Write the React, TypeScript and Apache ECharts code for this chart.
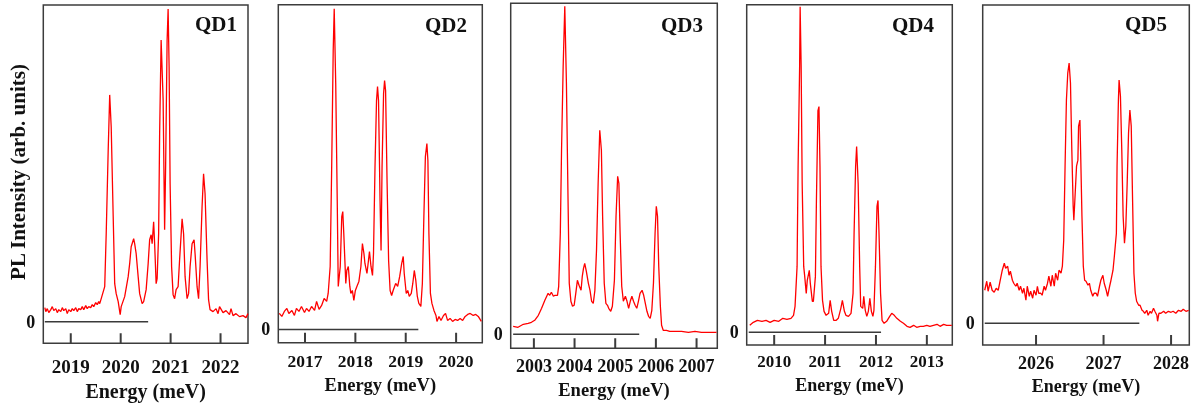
import { useEffect, useRef } from "react";
import * as echarts from "echarts";

// ---------- data ----------
const qd1Energy = [
  2018.48, 2018.5, 2018.53, 2018.56, 2018.6, 2018.63, 2018.66, 2018.7, 2018.73, 2018.76,
  2018.8, 2018.83, 2018.86, 2018.9, 2018.93, 2018.96, 2019.0, 2019.03, 2019.06, 2019.1,
  2019.13, 2019.16, 2019.2, 2019.23, 2019.26, 2019.3, 2019.33, 2019.36, 2019.4, 2019.43,
  2019.46, 2019.5, 2019.53, 2019.56, 2019.58,
  2019.61, 2019.68, 2019.71, 2019.75, 2019.78, 2019.81, 2019.85, 2019.88, 2019.91, 2019.95, 2019.99,
  2020.01, 2020.08, 2020.15, 2020.18, 2020.21, 2020.26, 2020.28, 2020.31, 2020.35, 2020.38,
  2020.43, 2020.46, 2020.51, 2020.55, 2020.58, 2020.61, 2020.63, 2020.66, 2020.68, 2020.71,
  2020.73, 2020.76, 2020.78, 2020.81, 2020.85, 2020.88, 2020.9, 2020.93, 2020.95, 2020.97,
  2020.99, 2021.02, 2021.05, 2021.08, 2021.11, 2021.15, 2021.18, 2021.23, 2021.26, 2021.29,
  2021.33, 2021.36, 2021.39, 2021.43, 2021.47, 2021.49, 2021.53, 2021.56, 2021.59, 2021.63,
  2021.66, 2021.69, 2021.73, 2021.76, 2021.79,
  2021.85, 2021.91, 2021.95, 2021.98, 2022.05, 2022.11, 2022.18, 2022.21, 2022.25, 2022.31,
  2022.38, 2022.45, 2022.51, 2022.55,
];
const qd1Intensity = [
  14, 10, 13, 9, 12, 15, 11, 13, 9, 12,
  10, 14, 11, 13, 8, 12, 10, 13, 11, 14,
  10, 13, 12, 15, 12, 16, 13, 15, 14, 17,
  15, 19, 17, 20, 18,
  23, 35, 88, 172, 227, 195, 105, 38, 28, 20, 7,
  15, 25, 45, 58, 75, 83, 78, 68, 45, 28,
  18, 20, 32, 58, 82, 87, 78, 100, 78, 38,
  43, 88, 188, 282, 222, 92, 155, 282, 313, 255,
  138, 55, 27, 23, 32, 35, 62, 103, 88, 45,
  23, 28, 55, 78, 82, 68, 35, 23, 55, 115,
  148, 128, 62, 22, 12,
  10, 13, 8, 15, 9, 11, 7, 13, 6, 8,
  5, 6, 4, 8,
];

const qd2Energy = [
  2016.49, 2016.54, 2016.59, 2016.64, 2016.68, 2016.74, 2016.79, 2016.83, 2016.88, 2016.93,
  2016.99, 2017.03, 2017.08, 2017.13, 2017.19, 2017.23, 2017.28, 2017.33, 2017.38, 2017.43,
  2017.46, 2017.5, 2017.53, 2017.56, 2017.58, 2017.61, 2017.64, 2017.66, 2017.7, 2017.73,
  2017.75, 2017.77, 2017.81, 2017.83, 2017.86, 2017.89, 2017.91, 2017.94, 2017.97, 2018.0,
  2018.03, 2018.07, 2018.11, 2018.14, 2018.17, 2018.19, 2018.23, 2018.26, 2018.28, 2018.31,
  2018.34, 2018.36, 2018.39, 2018.42, 2018.44, 2018.46, 2018.49, 2018.51, 2018.53, 2018.56,
  2018.58, 2018.6, 2018.63, 2018.66, 2018.69, 2018.72, 2018.75, 2018.8, 2018.84, 2018.88,
  2018.92, 2018.95, 2018.97, 2019.01, 2019.04, 2019.07, 2019.11, 2019.14, 2019.17, 2019.2,
  2019.23, 2019.26, 2019.3, 2019.33, 2019.36, 2019.39, 2019.42, 2019.44, 2019.46, 2019.49,
  2019.52, 2019.56, 2019.6, 2019.62, 2019.66, 2019.7, 2019.75, 2019.79, 2019.83, 2019.88,
  2019.93, 2019.98, 2020.03, 2020.08, 2020.13, 2020.18, 2020.23, 2020.28, 2020.34, 2020.39,
  2020.44, 2020.5,
];
const qd2Intensity = [
  16, 13, 18, 21, 16, 19, 14, 21, 18, 23,
  17, 21, 18, 23, 19, 28, 20, 24, 31, 28,
  36, 63, 163, 279, 321, 246, 129, 43, 63, 113,
  118, 96, 46, 59, 63, 43, 36, 39, 29, 39,
  43, 48, 63, 86, 76, 66, 56, 69, 78, 63,
  54, 76, 163, 229, 243, 229, 129, 79, 163, 236,
  249, 239, 146, 69, 39, 34, 39, 46, 43, 53,
  66, 73, 56, 36, 39, 33, 36, 46, 59, 49,
  33, 26, 23, 46, 113, 173, 186, 169, 96, 36,
  26, 19, 14, 8, 13, 9, 14, 16, 9, 11,
  8, 10, 9, 11, 9, 13, 15, 16, 14, 15,
  13, 8,
];

const qd3Energy = [
  2002.49, 2002.61, 2002.74, 2002.86, 2002.94, 2003.02, 2003.11, 2003.19, 2003.27, 2003.35,
  2003.39, 2003.43, 2003.48, 2003.52, 2003.58, 2003.61, 2003.65, 2003.68, 2003.72, 2003.76,
  2003.8, 2003.84, 2003.87, 2003.91, 2003.95, 2003.99, 2004.03, 2004.07, 2004.11, 2004.16,
  2004.19, 2004.22, 2004.25, 2004.29, 2004.34, 2004.38, 2004.42, 2004.46, 2004.5, 2004.54,
  2004.58, 2004.62, 2004.66, 2004.69, 2004.73, 2004.77, 2004.81, 2004.84, 2004.89, 2004.93,
  2004.98, 2005.02, 2005.06, 2005.09, 2005.12, 2005.16, 2005.2, 2005.25, 2005.29, 2005.33,
  2005.37, 2005.41, 2005.45, 2005.49, 2005.53, 2005.57, 2005.61, 2005.66, 2005.7, 2005.74,
  2005.78, 2005.82, 2005.86, 2005.9, 2005.94, 2005.98, 2006.01, 2006.04, 2006.07, 2006.11,
  2006.14, 2006.18, 2006.26, 2006.34, 2006.47, 2006.63, 2006.8, 2006.96, 2007.12, 2007.29,
  2007.49,
];
const qd3Intensity = [
  8, 7, 10, 11, 12, 14, 19, 26, 34, 41,
  39, 42, 38, 39, 39, 48, 101, 184, 268, 328,
  251, 134, 51, 33, 28, 29, 41, 54, 49, 44,
  58, 66, 71, 63, 51, 44, 33, 31, 44, 84,
  151, 204, 184, 118, 51, 31, 29, 26, 23, 28,
  54, 118, 158, 151, 101, 48, 33, 38, 33, 26,
  33, 38, 33, 29, 26, 33, 41, 44, 39, 31,
  23, 18, 16, 24, 51, 101, 128, 118, 68, 28,
  9, 4, 4, 3, 3, 3, 2, 3, 2, 2,
  2,
];

const qd4Energy = [
  2009.52, 2009.59, 2009.67, 2009.76, 2009.84, 2009.92, 2010.0, 2010.09, 2010.17, 2010.25,
  2010.33, 2010.38, 2010.41, 2010.45, 2010.47, 2010.5, 2010.51, 2010.53, 2010.55, 2010.58,
  2010.6, 2010.63, 2010.65, 2010.69, 2010.71, 2010.75, 2010.77, 2010.81, 2010.83, 2010.86,
  2010.88, 2010.9, 2010.92, 2010.95, 2010.98, 2011.02, 2011.07, 2011.1, 2011.13, 2011.17,
  2011.22, 2011.26, 2011.31, 2011.34, 2011.38, 2011.41, 2011.46, 2011.51, 2011.55, 2011.57,
  2011.6, 2011.62, 2011.65, 2011.68, 2011.7, 2011.74, 2011.76, 2011.79, 2011.82, 2011.85,
  2011.88, 2011.91, 2011.94, 2011.96, 2011.99, 2012.02, 2012.04, 2012.06, 2012.09, 2012.12,
  2012.16, 2012.21, 2012.27, 2012.31, 2012.36, 2012.41, 2012.48, 2012.54, 2012.61, 2012.67,
  2012.74, 2012.8, 2012.87, 2012.93, 2013.0, 2013.06, 2013.13, 2013.2, 2013.26, 2013.33,
  2013.39, 2013.49,
];
const qd4Intensity = [
  7, 10, 12, 11, 12, 10, 12, 11, 14, 13,
  14, 17, 26, 66, 166, 266, 326, 266, 149, 66,
  56, 39, 52, 62, 49, 31, 31, 56, 132, 222,
  226, 166, 66, 32, 21, 17, 19, 32, 21, 12,
  12, 14, 24, 32, 21, 17, 16, 19, 39, 99,
  166, 186, 149, 66, 26, 24, 36, 22, 16, 21,
  34, 21, 16, 22, 66, 126, 132, 99, 39, 12,
  9, 11, 16, 19, 17, 14, 11, 9, 6, 5,
  7, 5, 6, 6, 7, 6, 7, 8, 6, 8,
  7, 7,
];

const qd5Energy = [
  2025.24, 2025.27, 2025.29, 2025.32, 2025.35, 2025.38, 2025.41, 2025.44, 2025.47, 2025.5,
  2025.53, 2025.55, 2025.58, 2025.6, 2025.62, 2025.65, 2025.67, 2025.7, 2025.72, 2025.75,
  2025.77, 2025.8, 2025.82, 2025.85, 2025.87, 2025.9, 2025.92, 2025.95, 2025.97, 2026.0,
  2026.02, 2026.04, 2026.07, 2026.09, 2026.12, 2026.14, 2026.17, 2026.19, 2026.22, 2026.24,
  2026.27, 2026.29, 2026.32, 2026.34, 2026.37, 2026.39, 2026.41, 2026.43, 2026.45, 2026.47,
  2026.49, 2026.51, 2026.53, 2026.55, 2026.56, 2026.58, 2026.6, 2026.62, 2026.63, 2026.65,
  2026.66, 2026.68, 2026.7, 2026.72, 2026.74, 2026.77, 2026.79, 2026.81, 2026.84, 2026.86,
  2026.89, 2026.91, 2026.94, 2026.96, 2026.99, 2027.01, 2027.04, 2027.06, 2027.09, 2027.11,
  2027.14, 2027.16, 2027.19, 2027.2, 2027.22, 2027.23, 2027.25, 2027.27, 2027.29, 2027.31,
  2027.33, 2027.35, 2027.37, 2027.39, 2027.41, 2027.43, 2027.45, 2027.47, 2027.49, 2027.52,
  2027.54, 2027.57, 2027.59, 2027.61, 2027.64, 2027.66, 2027.69, 2027.71, 2027.74, 2027.76,
  2027.79, 2027.8, 2027.82, 2027.85, 2027.89, 2027.92, 2027.96, 2028.0, 2028.03, 2028.07,
  2028.11, 2028.15, 2028.18, 2028.22, 2028.26,
];
const qd5Intensity = [
  33, 42, 32, 41, 33, 31, 35, 33, 43, 53,
  60, 55, 57, 48, 52, 43, 40, 37, 40, 33,
  37, 30, 35, 23, 37, 27, 32, 25, 33, 28,
  37, 30, 30, 28, 37, 33, 40, 47, 37, 48,
  37, 50, 43, 53, 50, 57, 83, 157, 223, 250,
  260, 240, 173, 117, 103, 130, 157, 163, 197, 203,
  173, 107, 57, 43, 42, 38, 40, 33, 27, 30,
  30, 27, 37, 43, 48, 40, 33, 27, 37, 43,
  53, 67, 90, 157, 223, 243, 227, 173, 107, 80,
  97, 140, 190, 213, 197, 123, 50, 30, 22, 18,
  18, 13, 12, 10, 13, 8, 12, 10, 15, 12,
  8, 2, 10, 10, 12, 10, 12, 11, 12, 10,
  13, 12, 14, 12, 13,
];

const qd1Ticks = [2019, 2020, 2021, 2022];
const qd2Ticks = [2017, 2018, 2019, 2020];
const qd3Ticks = [2003, 2004, 2005, 2006, 2007];
const qd4Ticks = [2010, 2011, 2012, 2013];
const qd5Ticks = [2026, 2027, 2028];

// zero reference line extent (energy range)
const qd1Zero = [2018.48, 2020.55];
const qd2Zero = [2016.48, 2019.25];
const qd3Zero = [2002.49, 2005.59];
const qd4Zero = [2009.5, 2012.1];
const qd5Zero = [2025.24, 2027.53];

const dotNames = ["QD1", "QD2", "QD3", "QD4", "QD5"];
const xTitle = "Energy (meV)";
const yTitle = "PL Intensity (arb. units)";

// ---------- layout ----------
const FONT = "'Liberation Serif', 'Times New Roman', serif";
const TEXT = "#111111";
const FRAME = "#3c3c3c";
const TICK_LEN = 10; // px

const panels = [
  { energy: qd1Energy, intensity: qd1Intensity, ticks: qd1Ticks, zero: qd1Zero,
    x: [2018.45, 2022.55], y: [-21.7, 317], grid: [43.3, 5, 204.7, 338.3],
    tickFont: 19, nameFont: 20, labelMargin: 14, nameGap: 35, title: [216, 24] },
  { energy: qd2Energy, intensity: qd2Intensity, ticks: qd2Ticks, zero: qd2Zero,
    x: [2016.47, 2020.52], y: [-13.3, 325], grid: [278.3, 4.7, 204, 338],
    tickFont: 17.5, nameFont: 18.5, labelMargin: 9, nameGap: 33, title: [446, 25] },
  { energy: qd3Energy, intensity: qd3Intensity, ticks: qd3Ticks, zero: qd3Zero,
    x: [2002.43, 2007.51], y: [-14, 331], grid: [510.7, 3.3, 206.6, 345],
    tickFont: 18, nameFont: 18.5, labelMargin: 9, nameGap: 31, title: [682, 25] },
  { energy: qd4Energy, intensity: qd4Intensity, ticks: qd4Ticks, zero: qd4Zero,
    x: [2009.46, 2013.5], y: [-12.7, 328], grid: [746.7, 4.7, 205.6, 340.3],
    tickFont: 17, nameFont: 18, labelMargin: 8, nameGap: 31, title: [913, 25] },
  { energy: qd5Energy, intensity: qd5Intensity, ticks: qd5Ticks, zero: qd5Zero,
    x: [2025.21, 2028.27], y: [-21.7, 318], grid: [982.7, 5, 206.6, 340],
    tickFont: 18, nameFont: 18, labelMargin: 9, nameGap: 31, title: [1146, 24] },
];

function zip(a: number[], b: number[]) {
  const n = Math.min(a.length, b.length);
  const out: number[][] = [];
  for (let i = 0; i < n; i++) out.push([a[i], b[i]]);
  return out;
}

export default function App() {
  const ref = useRef<HTMLDivElement>(null);

  useEffect(() => {
    if (!ref.current) return;
    const chart = echarts.init(ref.current, null, { renderer: "svg" });

    // inward tick marks on the bottom frame, placed through each panel's scales
    const tickSeries = panels.flatMap((p, i) => {
      const unitsPerPx = (p.y[1] - p.y[0]) / p.grid[3];
      const top = p.y[0] + TICK_LEN * unitsPerPx;
      return p.ticks.map((t) => ({
        type: "line", xAxisIndex: i, yAxisIndex: i, silent: true, z: 5,
        data: [[t, p.y[0]], [t, top]],
        symbol: "none",
        lineStyle: { color: FRAME, width: 2 },
      }));
    });

    const option: any = {
      animation: false,
      grid: panels.map((p) => ({
        left: p.grid[0], top: p.grid[1], width: p.grid[2], height: p.grid[3],
        show: true, borderColor: FRAME, borderWidth: 1.5,
      })),
      xAxis: panels.map((p, i) => ({
        type: "value", gridIndex: i, min: p.x[0], max: p.x[1],
        axisLine: { show: false, onZero: false },
        splitLine: { show: false },
        axisTick: { show: false },
        axisLabel: { customValues: p.ticks, margin: p.labelMargin, fontFamily: FONT,
          fontWeight: "bold", fontSize: p.tickFont, color: TEXT,
          formatter: (v: number) => String(Math.round(v)) },
        name: xTitle, nameLocation: "middle", nameGap: p.nameGap,
        nameTextStyle: { fontFamily: FONT, fontWeight: "bold", fontSize: p.nameFont, color: TEXT },
      })),
      yAxis: panels.map((p, i) => ({
        type: "value", gridIndex: i, min: p.y[0], max: p.y[1],
        axisLine: { show: false, onZero: false }, axisTick: { show: false }, splitLine: { show: false },
        axisLabel: { customValues: [0], margin: 8, fontFamily: FONT, fontWeight: "bold",
          fontSize: 18, color: TEXT, formatter: () => "0" },
      })),
      series: [
        ...panels.flatMap((p, i) => [
          {
            type: "line", xAxisIndex: i, yAxisIndex: i, data: zip(p.energy, p.intensity),
            symbol: "none", silent: true,
            lineStyle: { color: "#ff0000", width: 1.3 },
          },
          {
            type: "line", xAxisIndex: i, yAxisIndex: i,
            data: [[p.zero[0], 0], [p.zero[1], 0]],
            symbol: "none", silent: true,
            lineStyle: { color: "#3a3a3a", width: 1.5 },
          },
        ]),
        ...tickSeries,
      ],
      graphic: [
        ...panels.map((p, i) => ({
          type: "text", x: p.title[0], y: p.title[1], silent: true,
          style: { text: dotNames[i], font: `bold 21px ${FONT}`, fill: TEXT,
            textAlign: "center", textVerticalAlign: "middle" },
        })),
        {
          type: "text", x: 18, y: 172, rotation: Math.PI / 2, silent: true,
          style: { text: yTitle, font: `bold 21px ${FONT}`, fill: TEXT,
            textAlign: "center", textVerticalAlign: "middle" },
        },
      ],
    };

    chart.setOption(option);
    return () => chart.dispose();
  }, []);

  return (
    <div
      ref={ref}
      style={{ position: "fixed", left: 0, top: 0, width: "1201px", height: "408px" }}
    />
  );
}
